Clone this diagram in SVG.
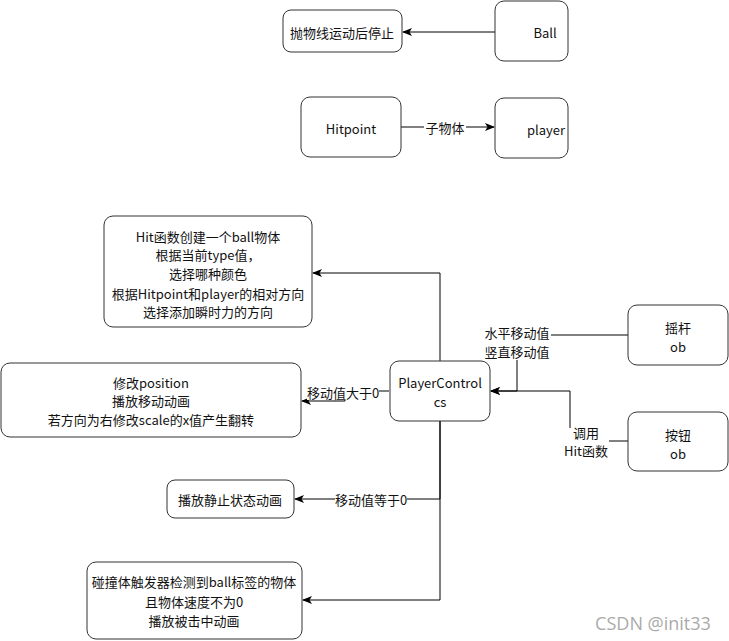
<svg xmlns="http://www.w3.org/2000/svg" width="729" height="641" viewBox="0 0 729 641">
<style>
.box{fill:#fff;stroke:#333;stroke-width:1}
.t{font-family:"Noto Sans CJK SC","Noto Sans",sans-serif;font-size:13px;fill:#111;text-anchor:middle;dominant-baseline:central}
.e{fill:none;stroke:#000;stroke-width:1}
.lb{fill:#fff}
</style>
<defs>
<marker id="arr" viewBox="0 0 10 8" refX="9" refY="4" markerWidth="10" markerHeight="8" markerUnits="userSpaceOnUse" orient="auto">
<path d="M0,0 L10,4 L0,8 L2.5,4 Z" fill="#000"/>
</marker>
</defs>
<rect width="729" height="641" fill="#fff"/>
<g id="connectors">
<path class="e" d="M495,32 L403,32" marker-end="url(#arr)"/>
<path class="e" d="M401,127 L494,127" marker-end="url(#arr)"/>
<path class="e" d="M440,361 L440,273 L313,273" marker-end="url(#arr)"/>
<path class="e" d="M389,391 L345,391 L345,401 L302,401" marker-end="url(#arr)"/>
<path class="e" d="M440,421 L440,499 L295,499" marker-end="url(#arr)"/>
<path class="e" d="M440,421 L440,600 L303,600" marker-end="url(#arr)"/>
<path class="e" d="M628,335 L517,335 L517,391 L491,391" marker-end="url(#arr)"/>
<path class="e" d="M628,441 L570,441 L570,391 L491,391" marker-end="url(#arr)"/>
<rect class="lb" x="424" y="119" width="42" height="16"/>
<text class="t" x="445" y="127">子物体</text>
<rect class="lb" x="307" y="383" width="72" height="17"/>
<text class="t" x="343" y="392">移动值大于0</text>
<rect class="lb" x="335" y="491" width="72" height="16"/>
<text class="t" x="371" y="499">移动值等于0</text>
<rect class="lb" x="485" y="323" width="66" height="37"/>
<text class="t" x="517" y="332">水平移动值</text>
<text class="t" x="517" y="351">竖直移动值</text>
<rect class="lb" x="563" y="428" width="46" height="31"/>
<text class="t" x="586" y="432">调用</text>
<text class="t" x="586" y="450">Hit函数</text>
</g>
<g id="node-stop">
<rect class="box" x="283" y="10" width="119" height="42" rx="8"/>
<text class="t" x="342" y="32">抛物线运动后停止</text>
</g>
<g id="node-ball">
<rect class="box" x="495" y="1" width="73" height="60" rx="9"/>
<text class="t" x="545" y="32">Ball</text>
</g>
<g id="node-hitpoint">
<rect class="box" x="301" y="97" width="100" height="60" rx="9"/>
<text class="t" x="351" y="128">Hitpoint</text>
</g>
<g id="node-player">
<rect class="box" x="495" y="98" width="73" height="60" rx="9"/>
<text class="t" x="546" y="129">player</text>
</g>
<g id="node-hit">
<rect class="box" x="104" y="216" width="208" height="111" rx="9"/>
<text class="t" x="208" y="236">Hit函数创建一个ball物体</text>
<text class="t" x="208" y="254">根据当前type值，</text>
<text class="t" x="208" y="273">选择哪种颜色</text>
<text class="t" x="208" y="293">根据Hitpoint和player的相对方向</text>
<text class="t" x="208" y="311">选择添加瞬时力的方向</text>
</g>
<g id="node-move">
<rect class="box" x="1" y="363" width="300" height="74" rx="9"/>
<text class="t" x="151" y="382">修改position</text>
<text class="t" x="151" y="400">播放移动动画</text>
<text class="t" x="151" y="419">若方向为右修改scale的x值产生翻转</text>
</g>
<g id="node-pc">
<rect class="box" x="390" y="361" width="100" height="60" rx="9"/>
<text class="t" x="440" y="382">PlayerControl</text>
<text class="t" x="440" y="401">cs</text>
</g>
<g id="node-joystick">
<rect class="box" x="628" y="305" width="100" height="60" rx="9"/>
<text class="t" x="678" y="327">摇杆</text>
<text class="t" x="678" y="346">ob</text>
</g>
<g id="node-button">
<rect class="box" x="628" y="412" width="100" height="59" rx="9"/>
<text class="t" x="678" y="434">按钮</text>
<text class="t" x="678" y="453">ob</text>
</g>
<g id="node-idle">
<rect class="box" x="167" y="480" width="127" height="38" rx="8"/>
<text class="t" x="230" y="499">播放静止状态动画</text>
</g>
<g id="node-hurt">
<rect class="box" x="87" y="562" width="215" height="77" rx="9"/>
<text class="t" x="194" y="581">碰撞体触发器检测到ball标签的物体</text>
<text class="t" x="194" y="601">且物体速度不为0</text>
<text class="t" x="194" y="620">播放被击中动画</text>
</g>
<text x="653" y="623" style="font-family:'Open Sans','Noto Sans',sans-serif;font-size:18px;fill:#aaa;text-anchor:middle;dominant-baseline:central">CSDN @init33</text>
</svg>
